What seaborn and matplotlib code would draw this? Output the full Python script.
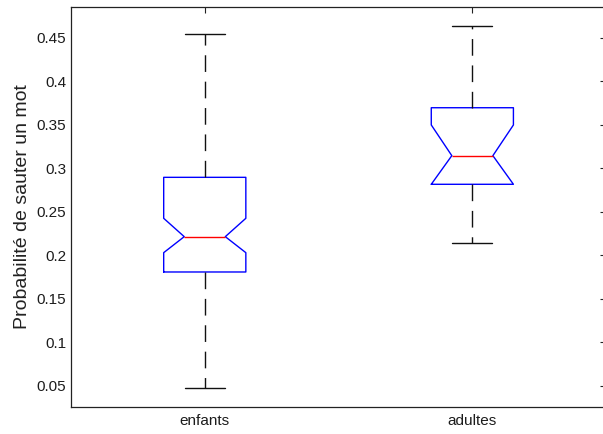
import matplotlib
matplotlib.use("Agg")
import matplotlib.pyplot as plt
import seaborn as sns

# groups and five-number summaries
groups = ["enfants", "adultes"]
whislo = [0.0474, 0.2144]
q1 = [0.1807, 0.2815]
med = [0.2213, 0.3144]
q3 = [0.2895, 0.3695]
whishi = [0.4546, 0.4638]
# notch limits (confidence interval of the median)
cilo = [0.2029, 0.2815]
cihi = [0.2424, 0.3497]

yticks = [0.05, 0.1, 0.15, 0.2, 0.25, 0.3, 0.35, 0.4, 0.45]
ytick_labels = ["0.05", "0.1", "0.15", "0.2", "0.25", "0.3", "0.35", "0.4", "0.45"]

# long format table for seaborn
xs, ys = [], []
for i, g in enumerate(groups):
    for v in [whislo[i], q1[i], med[i], q3[i], whishi[i]]:
        xs.append(g)
        ys.append(v)

stats = []
for i, g in enumerate(groups):
    stats.append(dict(label=g, whislo=whislo[i], q1=q1[i], med=med[i], q3=q3[i],
                      whishi=whishi[i], cilo=cilo[i], cihi=cihi[i], fliers=[]))

sns.set_style("white")
plt.rcParams["font.family"] = ["Liberation Sans", "DejaVu Sans"]

fig = plt.figure(figsize=(6.03, 4.34), dpi=100)
# right edge of the axes sits just outside the picture, as in the original
ax = fig.add_axes([0.1177, 0.0622, 0.8875, 0.9217])

sns.boxplot(x=xs, y=ys, ax=ax, order=groups, width=0.307, whis=(0, 100),
            fill=False, notch=True, capwidths=0.15, bxpstats=stats,
            boxprops=dict(color="#0000ff", linewidth=1.0),
            medianprops=dict(color="#ff0000", linewidth=1.0),
            whiskerprops=dict(color="#111111", linewidth=1.0, linestyle=(0, (12, 7))),
            capprops=dict(color="#111111", linewidth=1.0))

ax.set_xlim(-0.5, 1.5)
ax.set_ylim(0.0255, 0.4853)
ax.set_yticks(yticks)
ax.set_yticklabels(ytick_labels)
ax.set_xlabel("")
ax.set_ylabel("Probabilité de sauter un mot", fontsize=14, color="#222222", labelpad=4)

for s in ax.spines.values():
    s.set_visible(True)
    s.set_color("#222222")
    s.set_linewidth(0.9)
ax.tick_params(direction="in", length=4, width=0.8, color="#222222",
               top=True, right=True, labelsize=11, labelcolor="#1c1c1c")
ax.tick_params(axis="y", pad=3.5)
ax.tick_params(axis="x", pad=5)

fig.savefig("out.png", dpi=100)
